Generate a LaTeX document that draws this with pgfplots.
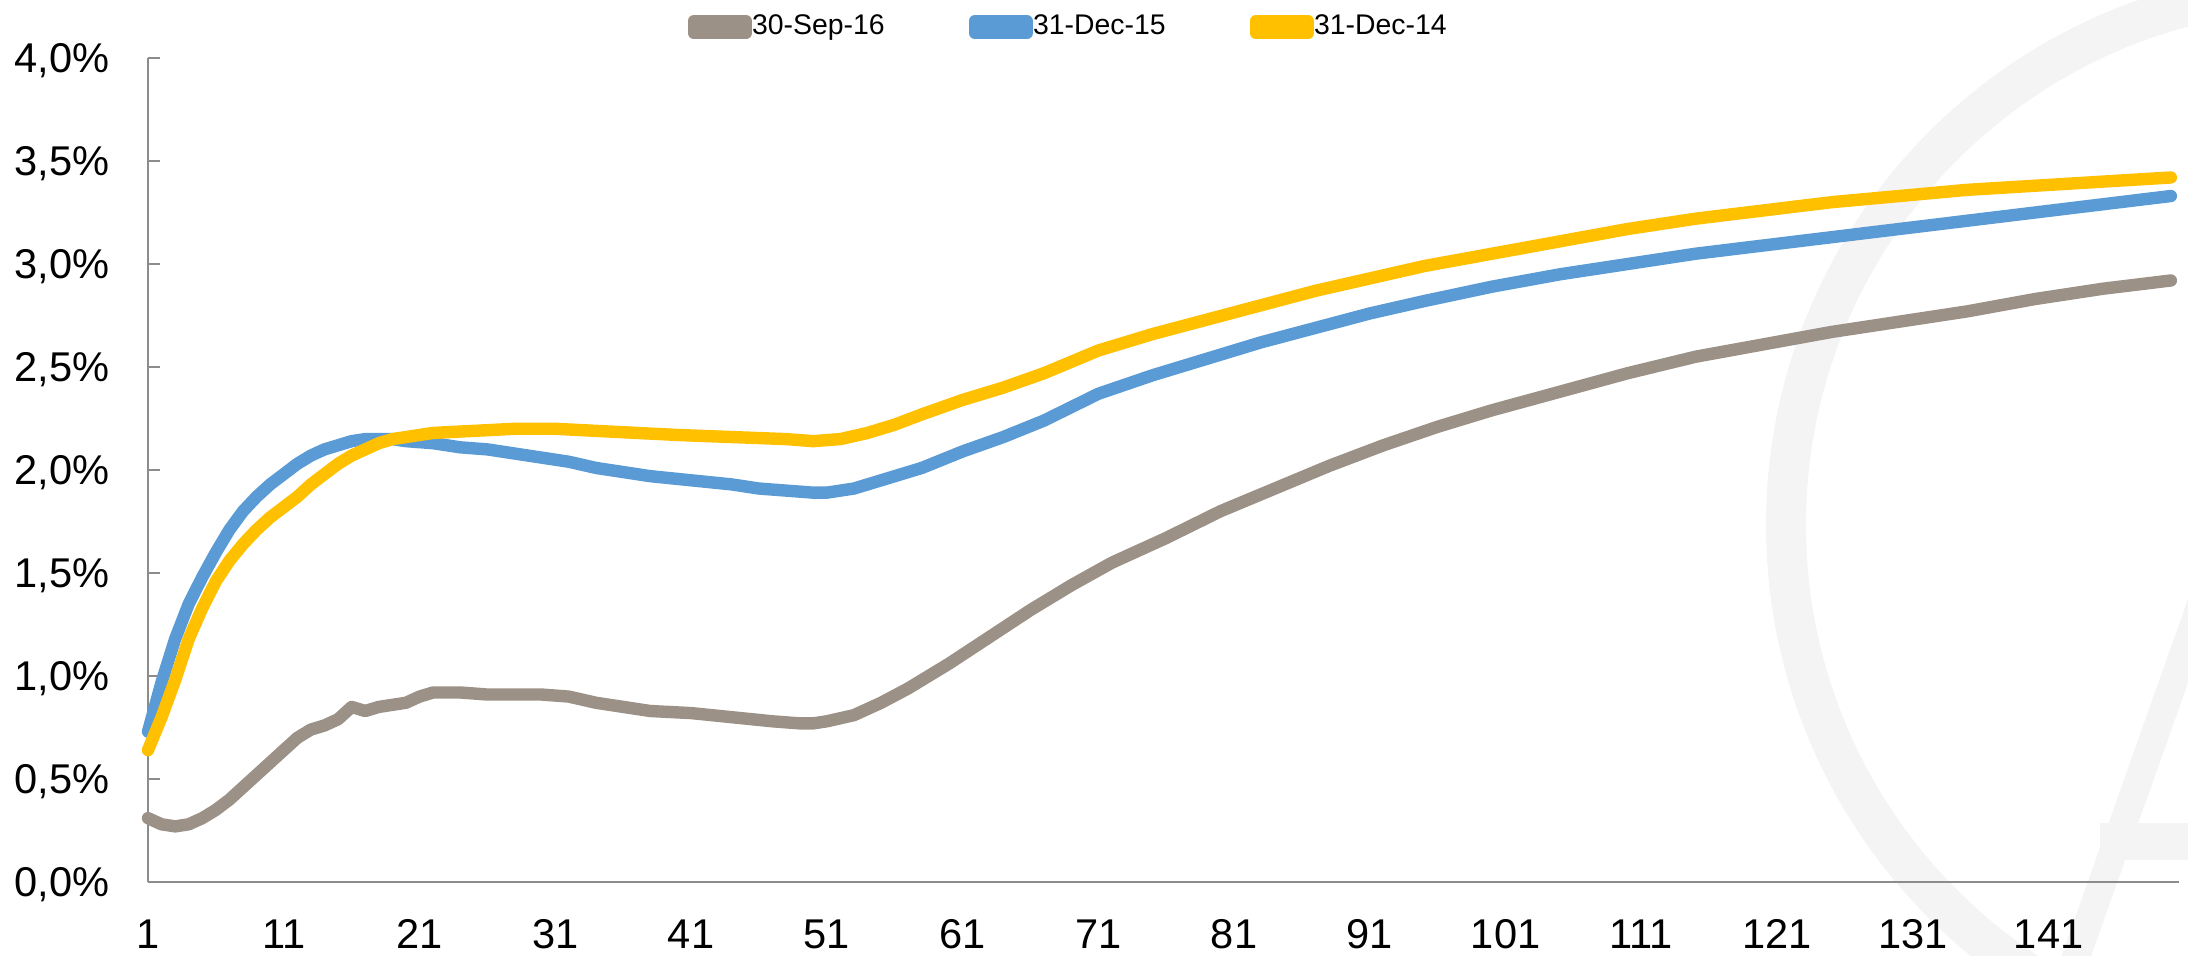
\documentclass[border=0pt]{standalone}
\usepackage{pgfplots}
\pgfplotsset{compat=1.18}
\usepackage{fontspec}
\setmainfont{Liberation Sans}
\definecolor{sep16}{HTML}{9C9187}
\definecolor{dec15}{HTML}{5B9BD5}
\definecolor{dec14}{HTML}{FFC000}
\definecolor{axisgrey}{HTML}{8C8C8C}
\definecolor{wmark}{HTML}{F4F4F4}

\pgfplotstableread{
x v
1 0.31
2 0.28
3 0.27
4 0.28
5 0.31
6 0.35
7 0.40
8 0.46
9 0.52
10 0.58
11 0.64
12 0.70
13 0.74
14 0.76
15 0.79
16 0.85
17 0.83
18 0.85
19 0.86
20 0.87
21 0.90
22 0.92
24 0.92
26 0.91
28 0.91
30 0.91
32 0.90
34 0.87
36 0.85
38 0.83
41 0.82
44 0.80
47 0.78
49 0.77
50 0.77
51 0.78
53 0.81
55 0.87
57 0.94
60 1.06
63 1.19
66 1.32
69 1.44
72 1.55
76 1.67
80 1.80
84 1.91
88 2.02
92 2.12
96 2.21
100 2.29
105 2.38
110 2.47
115 2.55
120 2.61
125 2.67
130 2.72
135 2.77
140 2.83
145 2.88
150 2.92
}\sepsixteen

\pgfplotstableread{
x v
1 0.73
2 0.97
3 1.18
4 1.35
5 1.48
6 1.60
7 1.71
8 1.80
9 1.87
10 1.93
11 1.98
12 2.03
13 2.07
14 2.10
15 2.12
16 2.14
17 2.15
18 2.15
19 2.15
20 2.14
22 2.13
24 2.11
26 2.10
28 2.08
30 2.06
32 2.04
34 2.01
36 1.99
38 1.97
41 1.95
44 1.93
46 1.91
48 1.90
50 1.89
51 1.89
53 1.91
55 1.95
58 2.01
61 2.09
64 2.16
67 2.24
71 2.37
75 2.46
79 2.54
83 2.62
87 2.69
91 2.76
95 2.82
100 2.89
105 2.95
110 3.00
115 3.05
120 3.09
125 3.13
130 3.17
135 3.21
140 3.25
145 3.29
150 3.33
}\decfifteen

\pgfplotstableread{
x v
1 0.64
2 0.80
3 0.98
4 1.18
5 1.33
6 1.46
7 1.56
8 1.64
9 1.71
10 1.77
11 1.82
12 1.87
13 1.93
14 1.98
15 2.03
16 2.07
17 2.10
18 2.13
19 2.15
20 2.16
22 2.18
25 2.19
28 2.20
31 2.20
34 2.19
37 2.18
40 2.17
44 2.16
48 2.15
50 2.14
52 2.15
54 2.18
56 2.22
58 2.27
61 2.34
64 2.40
67 2.47
71 2.58
75 2.66
79 2.73
83 2.80
87 2.87
91 2.93
95 2.99
100 3.05
105 3.11
110 3.17
115 3.22
120 3.26
125 3.30
130 3.33
135 3.36
140 3.38
145 3.40
150 3.42
}\decfourteen

\begin{document}
\begin{tikzpicture}
\useasboundingbox (-37pt,-18.25pt) rectangle (510pt,220.5pt);
% faint logo watermark behind the plot
\draw[wmark, line width=10pt] (543.5pt,89.25pt) circle (134pt);
\draw[wmark, line width=7pt] (478pt,-30pt) -- (517pt,80pt);
\draw[wmark, line width=9.25pt] (488pt,10.25pt) -- (520pt,10.25pt);
\begin{axis}[
  at={(0,0)}, anchor=south west,
  scale only axis, width=507.75pt, height=206pt,
  xmin=1, xmax=150.6, ymin=0, ymax=4,
  axis lines*=left,
  axis line style={axisgrey, line width=0.6pt},
  clip=false,
  xtick={1,11,21,31,41,51,61,71,81,91,101,111,121,131,141},
  xticklabels={1,11,21,31,41,51,61,71,81,91,101,111,121,131,141},
  ytick={0,0.5,1,1.5,2,2.5,3,3.5,4},
  yticklabels={{0,0\%},{0,5\%},{1,0\%},{1,5\%},{2,0\%},{2,5\%},{3,0\%},{3,5\%},{4,0\%}},
  xtick style={draw=none},
  ytick style={axisgrey, line width=0.6pt},
  tick align=inside, major tick length=3pt,
  xticklabel style={anchor=north, inner sep=0pt, yshift=-9pt, text height=7.45pt, text depth=0pt, font=\fontsize{10.4}{12}\selectfont},
  yticklabel style={anchor=east, inner sep=0pt, xshift=-9.5pt, text height=7.45pt, text depth=0pt, font=\fontsize{10.4}{12}\selectfont},
  every axis plot/.append style={line width=3.1pt, line join=round, line cap=round},
  legend columns=3,
  legend cell align=left,
  legend style={at={(0.2594,1.0375)}, anchor=west, draw=none, fill=none,
    nodes={inner sep=0pt}, font=\fontsize{7.1}{9}\selectfont,
    /tikz/every odd column/.append style={column sep=0pt},
    /tikz/every even column/.append style={column sep=21pt}},
  legend image code/.code={
    \path (0pt,-1.5pt) rectangle (13pt,1.5pt);
    \draw[line width=2.8pt, line cap=round] (1.4pt,0pt) -- (11.6pt,0pt);},
]
\addplot[sep16] table[x=x, y=v] {\sepsixteen};
\addplot[dec15] table[x=x, y=v] {\decfifteen};
\addplot[dec14] table[x=x, y=v] {\decfourteen};
\legend{30-Sep-16, 31-Dec-15, 31-Dec-14}
\end{axis}
\end{tikzpicture}
\end{document}
